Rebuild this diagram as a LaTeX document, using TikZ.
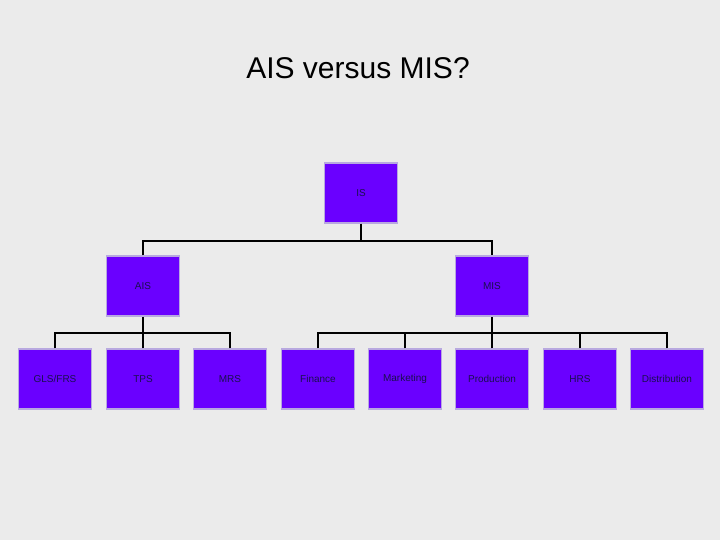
\documentclass[tikz,border=0pt]{standalone}
\usepackage{fontspec}
\setmainfont{Liberation Sans}
\usetikzlibrary{positioning}
\definecolor{bgray}{HTML}{EBEBEB}
\definecolor{boxfill}{HTML}{6A00FF}
\definecolor{boxline}{HTML}{B8A8E0}
\definecolor{boxtext}{HTML}{1A1050}

\begin{document}
\begin{tikzpicture}[x=1pt, y=-1pt, line width=2pt,
  unit/.style={rectangle, draw=boxline, line width=1.5pt, fill=boxfill,
    minimum width=73pt, minimum height=60pt, inner sep=0pt,
    text=boxtext, font=\fontsize{10}{12}\selectfont}]
   \fill[bgray] (0,0) rectangle (720,540);
   \useasboundingbox (0,0) rectangle (720,540);
   \node at (358,68) {\fontsize{30}{36}\selectfont AIS versus MIS?};
   \begin{scope}
    \node[unit] (is) at (361,193) {IS};
    \node[unit] (ais) at (143,286) {AIS};
    \node[unit] (mis) at (492,286) {MIS};
    \node[unit] (gls) at (55,379) {GLS/FRS};
    \node[unit] (tps) at (143,379) {TPS};
    \node[unit] (mrs) at (230,379) {MRS};
    \node[unit] (fin) at (318,379) {Finance};
    \node[unit] (mkt) at (405,379) {Marketing};
    \node[unit] (prd) at (492,379) {Production};
    \node[unit] (hrs) at (580,379) {HRS};
    \node[unit] (dst) at (667,379) {Distribution};
   \end{scope}
   \draw (is.south) -- ++(0,17) coordinate (isj);
   \draw (ais.north) |- (isj) -| (mis.north);
   \draw (ais.south) -- ++(0,16) coordinate (aisj);
   \foreach \n in {gls,tps,mrs} \draw (\n.north) |- (aisj);
   \draw (mis.south) -- ++(0,16) coordinate (misj);
   \foreach \n in {fin,mkt,prd,hrs,dst} \draw (\n.north) |- (misj);
\end{tikzpicture}
\end{document}
